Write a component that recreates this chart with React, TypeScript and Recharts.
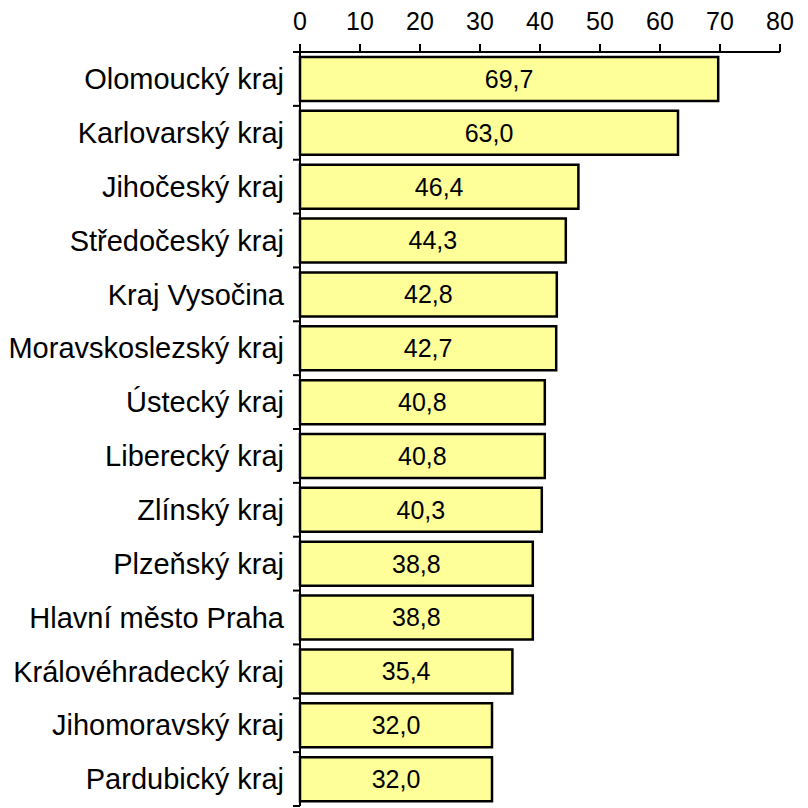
import { Bar, BarChart, LabelList, XAxis, YAxis } from "recharts";

const regions = [
  "Olomoucký kraj",
  "Karlovarský kraj",
  "Jihočeský kraj",
  "Středočeský kraj",
  "Kraj Vysočina",
  "Moravskoslezský kraj",
  "Ústecký kraj",
  "Liberecký kraj",
  "Zlínský kraj",
  "Plzeňský kraj",
  "Hlavní město Praha",
  "Královéhradecký kraj",
  "Jihomoravský kraj",
  "Pardubický kraj",
];
const values = [69.7, 63.0, 46.4, 44.3, 42.8, 42.7, 40.8, 40.8, 40.3, 38.8, 38.8, 35.4, 32.0, 32.0];
const xTicks = [0, 10, 20, 30, 40, 50, 60, 70, 80];

const data = regions.map((name, i) => ({ name, value: values[i] }));

const W = 808;
const H = 808;
const TOP = 52;
const BOTTOM = 2;
const AXIS_X = 300;
const band = (H - TOP - BOTTOM) / regions.length;
const font = "'Liberation Sans', Arial, sans-serif";

const fmt = (v: number) => v.toFixed(1).replace(".", ",");

function CategoryTick({ y, payload, index }: any) {
  const last = index === regions.length - 1;
  return (
    <g>
      <line x1={AXIS_X - 7} x2={AXIS_X} y1={y - band / 2} y2={y - band / 2} stroke="#000" strokeWidth={2} />
      {last && (
        <line x1={AXIS_X - 7} x2={AXIS_X} y1={y + band / 2} y2={y + band / 2} stroke="#000" strokeWidth={2} />
      )}
      <text x={AXIS_X - 16} y={y} dy="0.35em" textAnchor="end" fontSize={29} fontFamily={font} fill="#000">
        {payload.value}
      </text>
    </g>
  );
}

export default function App() {
  return (
    <div style={{ position: "absolute", left: 0, top: 0, width: W, height: H, background: "#fff" }}>
      <BarChart
        width={W}
        height={H}
        data={data}
        layout="vertical"
        margin={{ top: 0, right: 28, bottom: BOTTOM, left: 0 }}
        barCategoryGap={5}
      >
        <XAxis
          type="number"
          orientation="top"
          domain={[0, 80]}
          ticks={xTicks}
          height={TOP}
          axisLine={{ stroke: "#000", strokeWidth: 2 }}
          tickLine={{ stroke: "#000", strokeWidth: 2 }}
          tickSize={8}
          tickMargin={14}
          tick={{ fontSize: 25, fill: "#000", fontFamily: font }}
        />
        <YAxis
          type="category"
          dataKey="name"
          width={AXIS_X}
          axisLine={{ stroke: "#000", strokeWidth: 2 }}
          tickLine={false}
          tick={<CategoryTick />}
          interval={0}
        />
        <Bar dataKey="value" fill="#FFFF99" stroke="#000" strokeWidth={2.5} isAnimationActive={false}>
          <LabelList
            dataKey="value"
            position="center"
            formatter={(v: any) => fmt(Number(v))}
            style={{ fontSize: 25, fill: "#000", fontFamily: font }}
          />
        </Bar>
      </BarChart>
    </div>
  );
}
